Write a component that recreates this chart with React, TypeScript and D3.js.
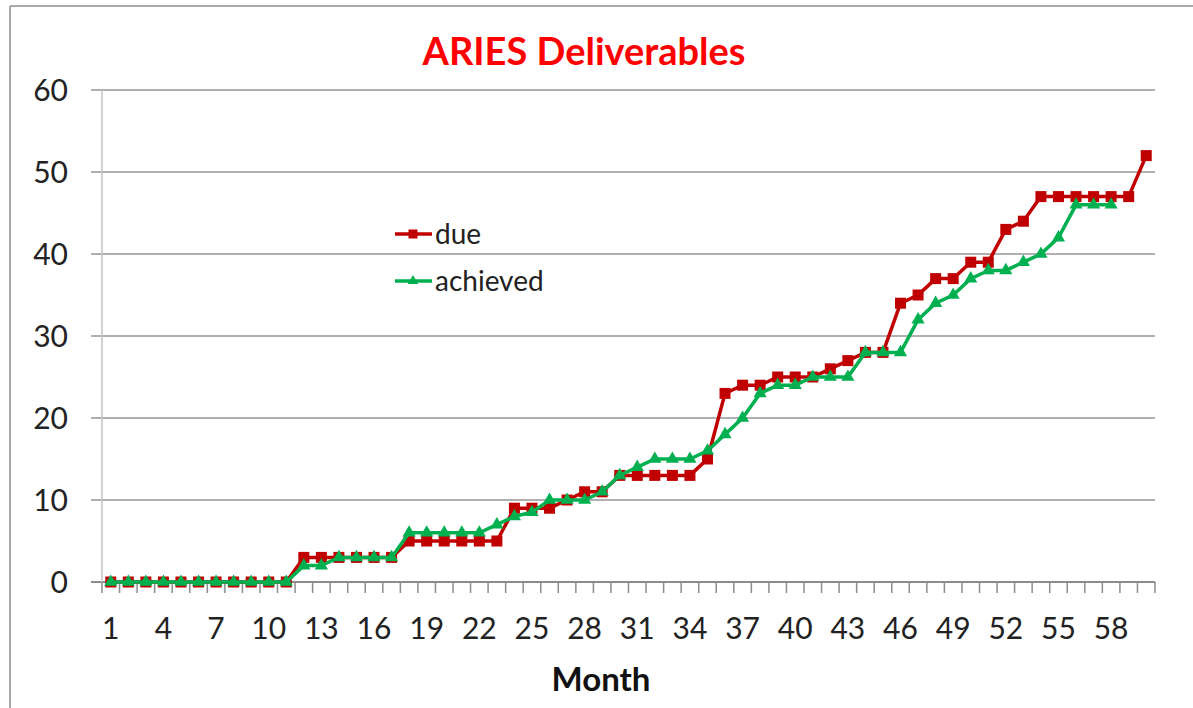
import React from "react";
import * as d3 from "d3";

const months: number[] = Array.from({ length: 60 }, (_, i) => i + 1);

const dueValues: number[] = [
  0, 0, 0, 0, 0, 0, 0, 0, 0, 0,
  0, 3, 3, 3, 3, 3, 3, 5, 5, 5,
  5, 5, 5, 9, 9, 9, 10, 11, 11, 13,
  13, 13, 13, 13, 15, 23, 24, 24, 25, 25,
  25, 26, 27, 28, 28, 34, 35, 37, 37, 39,
  39, 43, 44, 47, 47, 47, 47, 47, 47, 52,
];

const achievedValues: number[] = [
  0, 0, 0, 0, 0, 0, 0, 0, 0, 0,
  0, 2, 2, 3, 3, 3, 3, 6, 6, 6,
  6, 6, 7, 8, 8.5, 10, 10, 10, 11, 13,
  14, 15, 15, 15, 16, 18, 20, 23, 24, 24,
  25, 25, 25, 28, 28, 28, 32, 34, 35, 37,
  38, 38, 39, 40, 42, 46, 46, 46,
];

const yTicks: number[] = [0, 10, 20, 30, 40, 50, 60];
const xTickLabels: number[] = months.filter((m) => (m - 1) % 3 === 0);

const seriesNames = ["due", "achieved"];

const W = 1193;
const H = 708;
const left = 102;
const right = 1155;
const top = 90;
const bottom = 582;

const RED = "#c00000";
const GREEN = "#00b050";
const FONT = "Lato, 'Open Sans', sans-serif";

export default function App() {
  const x = d3
    .scaleBand<number>()
    .domain(months)
    .range([left, right])
    .paddingInner(0)
    .paddingOuter(0);
  const cx = (m: number) => (x(m) as number) + x.bandwidth() / 2;
  const y = d3.scaleLinear().domain([0, 60]).range([bottom, top]);

  const line = d3
    .line<number>()
    .x((_, i) => cx(months[i]))
    .y((d) => y(d));

  const tri = d3.symbol().type(d3.symbolTriangle).size(75)() as string;

  const boundaries = d3.range(0, months.length + 1).map((k) => left + k * x.bandwidth());

  return (
    <div style={{ position: "absolute", left: 0, top: 0 }}>
      <svg width={W} height={H} style={{ display: "block", background: "#fff" }}>
        <rect x={0} y={0} width={W} height={H} fill="#ffffff" />
        {/* chart border */}
        <line x1={10} y1={6} x2={W} y2={6} stroke="#8c8c8c" strokeWidth={1.5} />
        <line x1={10} y1={6} x2={10} y2={H} stroke="#8c8c8c" strokeWidth={1.5} />

        {/* title */}
        <text
          x={584}
          y={65}
          textAnchor="middle"
          fontFamily={FONT}
          fontWeight="bold"
          fontSize={38}
          fill="#ff0000"
        >
          ARIES Deliverables
        </text>

        {/* gridlines */}
        {yTicks.map((t) => (
          <line
            key={"g" + t}
            x1={91}
            x2={right}
            y1={y(t)}
            y2={y(t)}
            stroke={t === 0 ? "#8c8c8c" : "#b0b0b0"}
            strokeWidth={2}
          />
        ))}
        {/* y axis line */}
        <line x1={left} x2={left} y1={top} y2={bottom} stroke="#c4c4c4" strokeWidth={1.5} />

        {/* y tick labels */}
        {yTicks.map((t) => (
          <text
            key={"yl" + t}
            x={68}
            y={y(t)}
            dy="0.36em"
            textAnchor="end"
            fontFamily={FONT}
            fontSize={30}
            fill="#222"
          >
            {t}
          </text>
        ))}

        {/* x tick marks */}
        {boundaries.map((bx, i) => (
          <line
            key={"xt" + i}
            x1={bx}
            x2={bx}
            y1={bottom}
            y2={bottom + 11}
            stroke="#8c8c8c"
            strokeWidth={1.5}
          />
        ))}

        {/* x tick labels */}
        {xTickLabels.map((m) => (
          <text
            key={"xl" + m}
            x={cx(m)}
            y={639}
            textAnchor="middle"
            fontFamily={FONT}
            fontSize={30}
            fill="#222"
          >
            {m}
          </text>
        ))}

        {/* x axis title */}
        <text
          x={601}
          y={691}
          textAnchor="middle"
          fontFamily={FONT}
          fontWeight="bold"
          fontSize={33}
          fill="#111"
        >
          Month
        </text>

        {/* due series */}
        <path d={line(dueValues) as string} fill="none" stroke={RED} strokeWidth={3.5} />
        {dueValues.map((v, i) => (
          <rect
            key={"d" + i}
            x={cx(months[i]) - 5.5}
            y={y(v) - 5.5}
            width={11}
            height={11}
            fill={RED}
          />
        ))}

        {/* achieved series */}
        <path d={line(achievedValues) as string} fill="none" stroke={GREEN} strokeWidth={3.5} />
        {achievedValues.map((v, i) => (
          <path
            key={"a" + i}
            d={tri}
            transform={`translate(${cx(months[i])},${y(v)})`}
            fill={GREEN}
          />
        ))}

        {/* legend */}
        <g>
          <line x1={395} x2={432} y1={234} y2={234} stroke={RED} strokeWidth={3.5} />
          <rect x={408.5} y={229.5} width={9} height={9} fill={RED} />
          <text x={435} y={234} dy="0.36em" fontFamily={FONT} fontSize={28} fill="#222">
            {seriesNames[0]}
          </text>
          <line x1={395} x2={432} y1={281} y2={281} stroke={GREEN} strokeWidth={3.5} />
          <path d={tri} transform="translate(413,281) scale(0.8)" fill={GREEN} />
          <text x={435} y={281} dy="0.36em" fontFamily={FONT} fontSize={28} fill="#222">
            {seriesNames[1]}
          </text>
        </g>
      </svg>
    </div>
  );
}
